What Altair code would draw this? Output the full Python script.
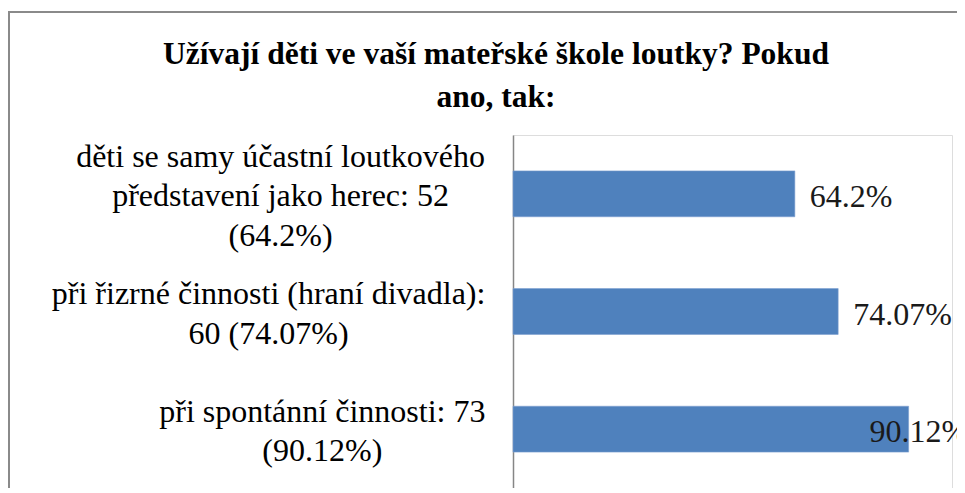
import altair as alt
import pandas as pd

# ---- data ----
categories = [
    "děti se samy účastní loutkového\npředstavení jako herec: 52\n(64.2%)",
    "při řizrné činnosti (hraní divadla):\n60 (74.07%)",
    "při spontánní činnosti: 73\n(90.12%)",
]
percent = [64.2, 74.07, 90.12]
value_labels = ["64.2%", "74.07%", "90.12%"]
title_lines = ["Užívají děti ve vaší mateřské škole loutky? Pokud", "ano, tak:"]

# ---- layout ----
W, H = 439, 353
PAD_L, PAD_T, PAD_R, PAD_B = 505, 127, 5, 0
FONT = "Times New Roman, Liberation Serif, DejaVu Serif, serif"
LABEL_FS = 32
LINE_H = 39.5
BLUE = "#4F81BD"
P_INNER = 0.61
BANDWIDTH = H / 3 * (1 - P_INNER)

# approximate Times glyph widths (em) to centre multi-line category labels
_w = {}
for ch in " .,:;": _w[ch] = 0.25
for ch in "iíljtť": _w[ch] = 0.278
for ch in "rřf()": _w[ch] = 0.333
for ch in "sš": _w[ch] = 0.389
for ch in "aácčeéězž": _w[ch] = 0.444
_w["m"] = 0.778
_w["%"] = 0.833


def text_width(s):
    return sum(_w.get(c, 0.5) for c in s) * LABEL_FS


RIGHT_EDGE = -28  # right edge of the label block, relative to the axis
lab_x = [RIGHT_EDGE - max(text_width(l) for l in c.split("\n")) / 2 for c in categories]
# yOffset is measured from the band start; centre each multi-line block on its bar
lab_dy = [BANDWIDTH / 2 + 2.5 - (len(c.split("\n")) - 1) * LINE_H / 2 for c in categories]

df = pd.DataFrame({"cat": categories, "pct": percent, "vlabel": value_labels,
                   "lab_x": lab_x, "lab_dy": lab_dy})

ysc = alt.Scale(paddingInner=P_INNER, paddingOuter=P_INNER / 2)
y = alt.Y("cat:N", sort=categories, scale=ysc,
          axis=alt.Axis(labels=False, ticks=False, title=None, grid=False,
                        domainColor="#868686", domainWidth=1.5))
xsc = alt.Scale(domain=[0, 100], nice=False, zero=True)

bars = alt.Chart(df).mark_bar(color=BLUE, stroke="#7DA0D0", strokeWidth=0.6).encode(
    x=alt.X("pct:Q", scale=xsc, axis=None),
    y=y,
)

values = alt.Chart(df).transform_calculate(
    lx="min(datum.pct, 77.8)"
).mark_text(align="left", baseline="middle", dx=15, dy=3, font=FONT,
            fontSize=LABEL_FS, color="#1a1a1a").encode(
    x=alt.X("lx:Q", scale=xsc, axis=None),
    y=y,
    text="vlabel:N",
)

cat_labels = alt.Chart(df).mark_text(align="center", baseline="middle", lineBreak="\n",
                                     lineHeight=LINE_H, font=FONT, fontSize=LABEL_FS,
                                     color="#000000").encode(
    x=alt.X("lab_x:Q", scale=None, axis=None),
    y=y,
    yOffset=alt.YOffset("lab_dy:Q", scale=None),
    text="cat:N",
)

title_df = pd.DataFrame({"t": ["\n".join(title_lines)]})
title = alt.Chart(title_df).mark_text(align="center", baseline="middle", lineBreak="\n",
                                      lineHeight=43, font=FONT, fontSize=31.5,
                                      fontWeight="bold", color="#000000").encode(
    x=alt.value(-17), y=alt.value(-80), text="t:N")

frame_df = pd.DataFrame({"k": [0]})
frame_left = alt.Chart(frame_df).mark_rule(color="#8a8a8a", strokeWidth=2).encode(
    x=alt.value(-504), y=alt.value(-123), y2=alt.value(H + 20))
frame_top = alt.Chart(frame_df).mark_rule(color="#8a8a8a", strokeWidth=2).encode(
    x=alt.value(-505), x2=alt.value(W + 40), y=alt.value(-123))

chart = alt.layer(frame_left, frame_top, bars, values, cat_labels, title).properties(
    width=W,
    height=H,
    autosize=alt.AutoSizeParams(type="none"),
    padding={"left": PAD_L, "top": PAD_T, "right": PAD_R, "bottom": PAD_B},
).configure_view(stroke=None).configure(background="white")

chart.save("out.html", embed_options={"renderer": "svg", "actions": False})
